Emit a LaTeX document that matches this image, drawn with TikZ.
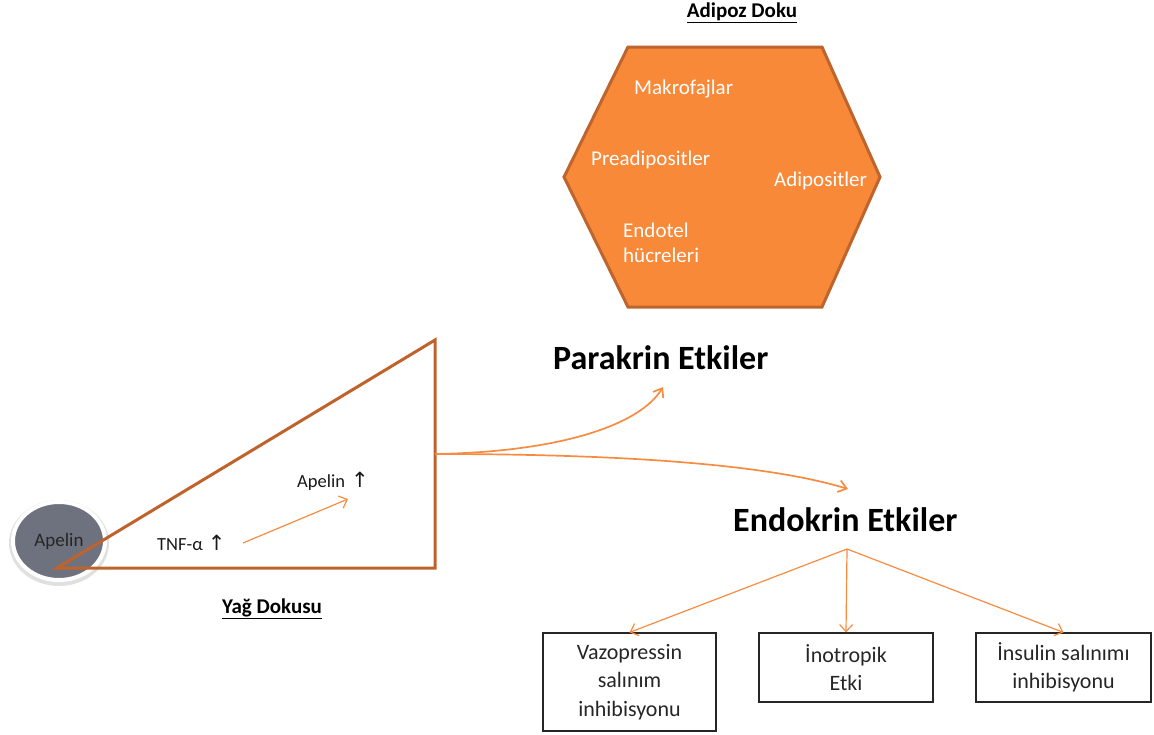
\documentclass[tikz,border=0pt]{standalone}
\usepackage{fontspec}
\setmainfont{Carlito}
\newfontfamily\symf{DejaVu Sans}
\usetikzlibrary{arrows.meta,shapes.geometric}
\definecolor{arr}{RGB}{247,140,64}
\definecolor{tri}{RGB}{192,98,43}
\definecolor{hexfill}{RGB}{247,137,57}
\definecolor{hexdraw}{RGB}{190,100,45}
\definecolor{gr}{RGB}{110,114,126}
\tikzset{
  arrowline/.style={draw=arr, line width=1.7pt, -{Straight Barb[length=8pt,width=12pt]}},
  thinarrow/.style={draw=arr, line width=1.2pt, -{Straight Barb[length=7pt,width=13pt]}},
  hextext/.style={anchor=base west, text=white, font=\fontsize{21}{26}\selectfont, inner sep=0pt},
  title/.style={anchor=base, font=\bfseries\fontsize{21}{25}\selectfont, inner sep=0pt},
  bigtext/.style={anchor=base west, font=\bfseries\fontsize{34}{40}\selectfont, inner sep=0pt},
  smalltext/.style={anchor=base west, font=\fontsize{18.5}{22}\selectfont, inner sep=0pt, text=black!90},
  uparrow/.style={},
  effbox/.style={draw=black!85, line width=1.2pt, align=center, font=\fontsize{22}{28.5}\selectfont, inner sep=0pt, text=black!85}
}
\newcommand{\uparr}{{\symf\fontsize{21}{22}\selectfont ↑}}
\begin{document}
\begin{tikzpicture}[x=1pt,y=-1pt]
\useasboundingbox (0,0) rectangle (1154,734);

% hexagon
\draw[draw=hexdraw, fill=hexfill, line width=3pt, line join=miter]
  (628,47) -- (822,47) -- (880,177) -- (822,307) -- (628,307) -- (564,177) -- cycle;
\node[title] (adipoz) at (742,17) {\underline{Adipoz Doku}};
\node[hextext] (makro) at (634,94) {Makrofajlar};
\node[hextext] (pread) at (591,165) {Preadipositler};
\node[hextext] (adipo) at (774,186) {Adipositler};
\node[hextext] (endot) at (623,237) {Endotel};
\node[hextext] (hucre) at (623,262) {hücreleri};

% circle
\fill[black!12] (59,543) ellipse [x radius=50, y radius=43];
\node[ellipse, fill=gr, draw=white, line width=4pt, minimum width=92pt, minimum height=78pt,
      inner sep=0pt, font=\fontsize{19}{22}\selectfont, text=black!85] (apelinc) at (59,541) {Apelin};

% triangle
\coordinate (tA) at (57,568);
\coordinate (tB) at (435,568);
\coordinate (tC) at (435,340);
\draw[tri, line width=3pt, line join=miter] (tA) -- (tB) -- (tC) -- cycle;
\coordinate (src) at (435,454);

\node[smalltext] (tnf) at (157,550) {TNF-α\hspace{5pt}\uparr};
\node[smalltext] (apel) at (297,487) {Apelin\hspace{6pt}\uparr};
\coordinate (tnfa) at (243,543);
\coordinate (apa) at (348,499);
\draw[thinarrow] (tnfa) -- (apa);

\node[title] (yag) at (272,613) {\underline{Yağ Dokusu}};

% effects
\node[bigtext] (para) at (553,369) {Parakrin Etkiler};
\node[bigtext] (endo) at (733,531) {Endokrin Etkiler};
\coordinate (paratip) at (663,387);
\coordinate (endotip) at (848,489);
\draw[arrowline] (src) .. controls (560,452) and (640,425) .. (paratip);
\draw[arrowline] (src) .. controls (600,454) and (760,462) .. (endotip);

\coordinate (apex) at (847,549);
\node[effbox, minimum width=173pt, minimum height=98pt] (vazo) at (629.5,682) {Vazopressin\\salınım\\inhibisyonu};
\node[effbox, minimum width=174pt, minimum height=69pt] (ino) at (846,667.5) {İnotropik\\Etki};
\node[effbox, minimum width=175pt, minimum height=69pt] (ins) at (1063.5,667.5) {İnsulin salınımı\\inhibisyonu};
\draw[thinarrow] (apex) -- (vazo.north);
\draw[thinarrow] (apex) -- (ino.north);
\draw[thinarrow] (apex) -- (ins.north);
\end{tikzpicture}
\end{document}
